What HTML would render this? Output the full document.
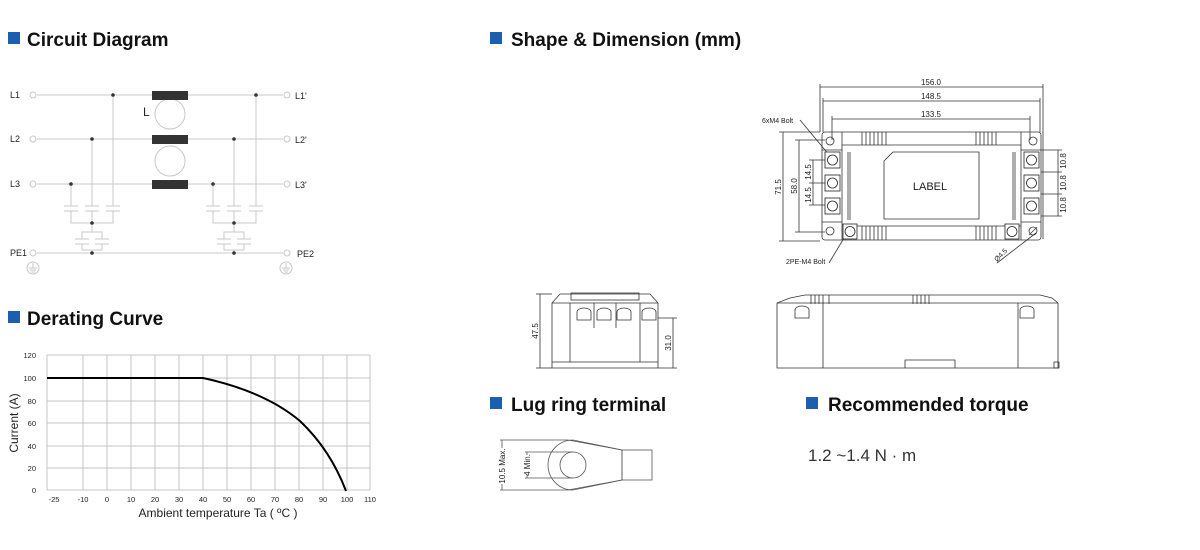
<!DOCTYPE html>
<html><head><meta charset="utf-8"><style>
html,body{margin:0;padding:0;background:#fff;}
svg{display:block;}
.h{font-family:"Liberation Sans",sans-serif;font-weight:bold;font-size:19px;fill:#111;}
.t{font-family:"Liberation Sans",sans-serif;fill:#222;}
</style></head><body>
<svg width="1200" height="550" viewBox="0 0 1200 550" xmlns="http://www.w3.org/2000/svg">
<!-- headers -->
<rect x="8" y="32" width="12" height="12" fill="#1a5fb0"/><text x="27" y="46" class="h">Circuit Diagram</text>
<rect x="490" y="32" width="12" height="12" fill="#1a5fb0"/><text x="511" y="46" class="h">Shape &amp; Dimension (mm)</text>
<rect x="8" y="311" width="12" height="12" fill="#1a5fb0"/><text x="27" y="325" class="h">Derating Curve</text>
<rect x="490" y="397" width="12" height="12" fill="#1a5fb0"/><text x="511" y="411" class="h">Lug ring terminal</text>
<rect x="806" y="397" width="12" height="12" fill="#1a5fb0"/><text x="828" y="411" class="h">Recommended torque</text>

<!-- circuit -->
<g stroke="#c8c8c8" stroke-width="1" fill="none">
<line x1="37" y1="95" x2="283" y2="95"/><line x1="37" y1="139" x2="283" y2="139"/><line x1="37" y1="184" x2="283" y2="184"/><line x1="37" y1="253" x2="283" y2="253"/>
<circle cx="33" cy="95" r="3"/><circle cx="33" cy="139" r="3"/><circle cx="33" cy="184" r="3"/><circle cx="33" cy="253" r="3"/>
<circle cx="287" cy="95" r="3"/><circle cx="287" cy="139" r="3"/><circle cx="287" cy="184" r="3"/><circle cx="287" cy="253" r="3"/>
<circle cx="170" cy="114" r="15"/><circle cx="170" cy="161" r="15"/>
<line x1="113" y1="95" x2="113" y2="206"/><line x1="92" y1="139" x2="92" y2="206"/><line x1="71" y1="184" x2="71" y2="206"/>
<line x1="64" y1="206" x2="78" y2="206"/><line x1="64" y1="211" x2="78" y2="211"/>
<line x1="85" y1="206" x2="99" y2="206"/><line x1="85" y1="211" x2="99" y2="211"/>
<line x1="106" y1="206" x2="120" y2="206"/><line x1="106" y1="211" x2="120" y2="211"/>
<polyline points="71,211 71,223 113,223 113,211"/><line x1="92" y1="211" x2="92" y2="232"/>
<polyline points="82,239 82,232 102,232 102,239"/><polyline points="82,244 82,250 102,250 102,244"/>
<line x1="75" y1="239" x2="89" y2="239"/><line x1="75" y1="244" x2="89" y2="244"/><line x1="95" y1="239" x2="109" y2="239"/><line x1="95" y1="244" x2="109" y2="244"/>
<line x1="92" y1="250" x2="92" y2="253"/>
<line x1="256" y1="95" x2="256" y2="206"/><line x1="234" y1="139" x2="234" y2="206"/><line x1="213" y1="184" x2="213" y2="206"/>
<line x1="206" y1="206" x2="220" y2="206"/><line x1="206" y1="211" x2="220" y2="211"/>
<line x1="227" y1="206" x2="241" y2="206"/><line x1="227" y1="211" x2="241" y2="211"/>
<line x1="249" y1="206" x2="263" y2="206"/><line x1="249" y1="211" x2="263" y2="211"/>
<polyline points="213,211 213,223 256,223 256,211"/><line x1="234" y1="211" x2="234" y2="232"/>
<polyline points="224,239 224,232 244,232 244,239"/><polyline points="224,244 224,250 244,250 244,244"/>
<line x1="217" y1="239" x2="231" y2="239"/><line x1="217" y1="244" x2="231" y2="244"/><line x1="237" y1="239" x2="251" y2="239"/><line x1="237" y1="244" x2="251" y2="244"/>
<line x1="234" y1="250" x2="234" y2="253"/>
<circle cx="33" cy="268" r="6"/><line x1="33" y1="263" x2="33" y2="268"/><line x1="29" y1="268" x2="37" y2="268"/><line x1="30" y1="270" x2="36" y2="270"/><line x1="31" y1="272" x2="35" y2="272"/>
<circle cx="286" cy="268" r="6"/><line x1="286" y1="263" x2="286" y2="268"/><line x1="282" y1="268" x2="290" y2="268"/><line x1="283" y1="270" x2="289" y2="270"/><line x1="284" y1="272" x2="288" y2="272"/>
</g>
<g fill="#333"><rect x="152" y="91" width="36" height="9"/><rect x="152" y="135" width="36" height="9"/><rect x="152" y="180" width="36" height="9"/>
<circle cx="113" cy="95" r="1.8"/><circle cx="92" cy="139" r="1.8"/><circle cx="71" cy="184" r="1.8"/><circle cx="92" cy="223" r="1.8"/><circle cx="92" cy="253" r="1.8"/>
<circle cx="256" cy="95" r="1.8"/><circle cx="234" cy="139" r="1.8"/><circle cx="213" cy="184" r="1.8"/><circle cx="234" cy="223" r="1.8"/><circle cx="234" cy="253" r="1.8"/></g>
<g class="t" font-size="9"><text x="10" y="98">L1</text><text x="10" y="142">L2</text><text x="10" y="187">L3</text><text x="10" y="256">PE1</text>
<text x="295" y="99">L1'</text><text x="295" y="143">L2'</text><text x="295" y="188">L3'</text><text x="297" y="257">PE2</text></g>
<text x="143" y="116" class="t" font-size="12">L</text>

<!-- chart -->
<g stroke="#c4c4c4" stroke-width="1">
<line x1="47" y1="355" x2="370" y2="355"/><line x1="47" y1="378" x2="370" y2="378"/><line x1="47" y1="401" x2="370" y2="401"/><line x1="47" y1="423" x2="370" y2="423"/><line x1="47" y1="446" x2="370" y2="446"/><line x1="47" y1="468" x2="370" y2="468"/><line x1="47" y1="490" x2="370" y2="490"/>
<line x1="47" y1="355" x2="47" y2="490"/><line x1="83" y1="355" x2="83" y2="490"/><line x1="107" y1="355" x2="107" y2="490"/><line x1="131" y1="355" x2="131" y2="490"/><line x1="155" y1="355" x2="155" y2="490"/><line x1="179" y1="355" x2="179" y2="490"/><line x1="203" y1="355" x2="203" y2="490"/><line x1="227" y1="355" x2="227" y2="490"/><line x1="251" y1="355" x2="251" y2="490"/><line x1="275" y1="355" x2="275" y2="490"/><line x1="299" y1="355" x2="299" y2="490"/><line x1="323" y1="355" x2="323" y2="490"/><line x1="347" y1="355" x2="347" y2="490"/><line x1="370" y1="355" x2="370" y2="490"/>
</g>
<path d="M47,378 L203,378 C240,386 275,400 300,421 C320,440 335,462 346,491" stroke="#000" stroke-width="2" fill="none"/>
<g class="t" font-size="7.5" text-anchor="end"><text x="36" y="358">120</text><text x="36" y="381">100</text><text x="36" y="404">80</text><text x="36" y="426">60</text><text x="36" y="449">40</text><text x="36" y="471">20</text><text x="36" y="493">0</text></g>
<g class="t" font-size="7.5" text-anchor="middle"><text x="54" y="502">-25</text><text x="83" y="502">-10</text><text x="107" y="502">0</text><text x="131" y="502">10</text><text x="155" y="502">20</text><text x="179" y="502">30</text><text x="203" y="502">40</text><text x="227" y="502">50</text><text x="251" y="502">60</text><text x="275" y="502">70</text><text x="299" y="502">80</text><text x="323" y="502">90</text><text x="347" y="502">100</text><text x="370" y="502">110</text></g>
<text x="218" y="517" class="t" font-size="12" text-anchor="middle">Ambient temperature Ta ( ºC )</text>
<text transform="translate(18,423) rotate(-90)" class="t" font-size="12" text-anchor="middle">Current (A)</text>

<!-- top view -->
<g stroke="#333" stroke-width="0.8" fill="none">
<line x1="820" y1="87" x2="1043" y2="87"/><line x1="823" y1="101" x2="1040" y2="101"/><line x1="832" y1="119" x2="1030" y2="119"/>
<line x1="820" y1="84" x2="820" y2="132"/><line x1="1043" y1="84" x2="1043" y2="239"/><line x1="823" y1="98" x2="823" y2="132"/><line x1="1040" y1="98" x2="1040" y2="132"/><line x1="832" y1="116" x2="832" y2="140"/><line x1="1030" y1="116" x2="1030" y2="140"/>
<line x1="783" y1="132" x2="783" y2="241"/><line x1="779" y1="132" x2="820" y2="132"/><line x1="779" y1="241" x2="820" y2="241"/>
<line x1="799" y1="140" x2="799" y2="232"/><line x1="795" y1="140" x2="825" y2="140"/><line x1="795" y1="232" x2="825" y2="232"/>
<line x1="813" y1="160" x2="813" y2="205"/><line x1="809" y1="160" x2="826" y2="160"/><line x1="809" y1="183" x2="826" y2="183"/><line x1="809" y1="205" x2="826" y2="205"/>
<line x1="1058" y1="150" x2="1058" y2="216"/><line x1="1041" y1="150" x2="1062" y2="150"/><line x1="1041" y1="172" x2="1062" y2="172"/><line x1="1041" y1="194" x2="1062" y2="194"/><line x1="1041" y1="216" x2="1062" y2="216"/>
<line x1="800" y1="120" x2="830" y2="156"/><line x1="829" y1="263" x2="847" y2="233"/><line x1="997" y1="263" x2="1036" y2="233"/>
<rect x="822" y="132" width="219" height="108" rx="3"/>
<line x1="822" y1="150" x2="842" y2="150"/><line x1="842" y1="132" x2="842" y2="240"/><line x1="1021" y1="132" x2="1021" y2="240"/><line x1="1021" y1="150" x2="1041" y2="150"/>
<line x1="822" y1="222" x2="842" y2="222"/><line x1="1021" y1="222" x2="1041" y2="222"/>
<line x1="842" y1="145" x2="1021" y2="145"/><line x1="842" y1="226" x2="1021" y2="226"/>
<line x1="848" y1="152" x2="848" y2="220"/><line x1="850" y1="152" x2="850" y2="220"/><line x1="1013" y1="152" x2="1013" y2="220"/><line x1="1015" y1="152" x2="1015" y2="220"/>
<path d="M862,132v13M866,132v13M870,132v13M874,132v13M878,132v13M882,132v13M886,132v13M976,132v13M980,132v13M984,132v13M988,132v13M992,132v13M996,132v13"/>
<path d="M862,226v14M866,226v14M870,226v14M874,226v14M878,226v14M882,226v14M886,226v14M976,226v14M980,226v14M984,226v14M988,226v14M992,226v14M996,226v14"/>
<circle cx="830" cy="141" r="4"/><circle cx="1033" cy="141" r="4"/><circle cx="830" cy="231" r="4"/><circle cx="1033" cy="231" r="4"/>
<line x1="1029" y1="235" x2="1037" y2="227"/>
<path d="M893,152 H979 V219 H884 V161 Z"/>
</g>
<g stroke="#222" stroke-width="0.8" fill="#fff">
<rect x="825" y="152" width="15" height="16"/><rect x="825" y="175" width="15" height="16"/><rect x="825" y="198" width="15" height="16"/>
<rect x="1024" y="152" width="15" height="16"/><rect x="1024" y="175" width="15" height="16"/><rect x="1024" y="198" width="15" height="16"/>
<rect x="843" y="224" width="14" height="15"/><rect x="1005" y="224" width="14" height="15"/>
<circle cx="832.5" cy="160" r="5"/><circle cx="832.5" cy="183" r="5"/><circle cx="832.5" cy="206" r="5"/>
<circle cx="1031.5" cy="160" r="5"/><circle cx="1031.5" cy="183" r="5"/><circle cx="1031.5" cy="206" r="5"/>
<circle cx="850" cy="231.5" r="5"/><circle cx="1012" cy="231.5" r="5"/>
</g>
<text x="930" y="190" class="t" font-size="11" text-anchor="middle">LABEL</text>
<g class="t" font-size="8" text-anchor="middle"><text x="931" y="85">156.0</text><text x="931" y="99">148.5</text><text x="931" y="117">133.5</text></g>
<text x="762" y="123" class="t" font-size="7">6xM4 Bolt</text>
<text x="786" y="264" class="t" font-size="7">2PE-M4 Bolt</text>
<text transform="translate(997,262) rotate(-45)" class="t" font-size="7">Ø4.5</text>
<g class="t" font-size="8" text-anchor="middle">
<text transform="translate(781,187) rotate(-90)">71.5</text><text transform="translate(797,186) rotate(-90)">58.0</text>
<text transform="translate(811,172) rotate(-90)">14.5</text><text transform="translate(811,195) rotate(-90)">14.5</text>
<text transform="translate(1066,161) rotate(-90)">10.8</text><text transform="translate(1066,183) rotate(-90)">10.8</text><text transform="translate(1066,205) rotate(-90)">10.8</text>
</g>

<!-- side view left -->
<g stroke="#333" stroke-width="0.8" fill="none">
<path d="M552,368 V303 L560,294 H650 L658,303 V368 Z"/>
<line x1="552" y1="362" x2="658" y2="362"/><line x1="570" y1="303" x2="570" y2="362"/><line x1="640" y1="303" x2="640" y2="362"/><line x1="552" y1="303" x2="658" y2="303"/>
<rect x="571" y="293" width="68" height="7"/>
<path d="M577,320 h14 v-8 a7,4 0 0 0 -14,0 z M597,320 h14 v-8 a7,4 0 0 0 -14,0 z M617,320 h14 v-8 a7,4 0 0 0 -14,0 z M642,320 h14 v-8 a7,4 0 0 0 -14,0 z"/>
<line x1="594" y1="303" x2="594" y2="328"/><line x1="616" y1="303" x2="616" y2="328"/>
<line x1="540" y1="294" x2="540" y2="368"/><line x1="536" y1="294" x2="552" y2="294"/><line x1="536" y1="368" x2="552" y2="368"/>
<line x1="673" y1="318" x2="673" y2="368"/><line x1="658" y1="318" x2="677" y2="318"/><line x1="658" y1="368" x2="677" y2="368"/>
</g>
<text transform="translate(538,331) rotate(-90)" class="t" font-size="8" text-anchor="middle">47.5</text>
<text transform="translate(671,343) rotate(-90)" class="t" font-size="8" text-anchor="middle">31.0</text>
<!-- side view right -->
<g stroke="#333" stroke-width="0.8" fill="none">
<path d="M777,368 V303 L790,298 L805,295 H1040 L1052,298 L1058,303 V368 Z"/>
<line x1="777" y1="303" x2="1058" y2="303"/><line x1="823" y1="303" x2="823" y2="368"/><line x1="1018" y1="303" x2="1018" y2="368"/>
<path d="M811,295v9M815,295v9M819,295v9M823,295v9M829,295v9M913,295v9M917,295v9M921,295v9M925,295v9M929,295v9"/>
<path d="M905,368 v-8 h50 v8"/>
<path d="M795,318 h14 v-8 a7,4 0 0 0 -14,0 z M1020,318 h14 v-8 a7,4 0 0 0 -14,0 z"/>
<rect x="1054" y="362" width="5" height="6"/>
</g>

<!-- lug -->
<g stroke="#555" stroke-width="0.8" fill="none">
<path d="M573,440 A25,25 0 0 0 573,490 L622,480 V450 Z"/>
<path d="M568,440 L622,450 M568,490 L622,480"/>
<circle cx="573" cy="465" r="13"/>
<rect x="622" y="450" width="30" height="30"/>
<line x1="500" y1="440" x2="568" y2="440"/><line x1="500" y1="490" x2="568" y2="490"/><line x1="502" y1="440" x2="502" y2="490"/>
<line x1="525" y1="452" x2="573" y2="452"/><line x1="525" y1="478" x2="573" y2="478"/><line x1="527" y1="452" x2="527" y2="478"/>
</g>
<rect x="496" y="448" width="12" height="36" fill="#fff"/>
<text transform="translate(505,466) rotate(-90)" class="t" font-size="8" text-anchor="middle">10.5 Max.</text>
<rect x="521" y="455" width="12" height="20" fill="#fff"/>
<text transform="translate(530,465) rotate(-90)" class="t" font-size="8" text-anchor="middle">4 Min.</text>

<text x="808" y="461" font-family="Liberation Sans, sans-serif" font-size="17" fill="#333">1.2 ~1.4 N · m</text>
</svg>
</body></html>
